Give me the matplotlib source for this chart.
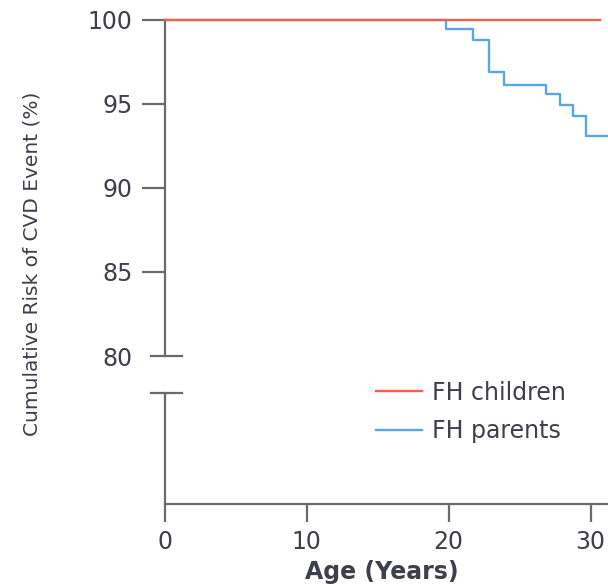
import numpy as np
import matplotlib.pyplot as plt

# data
children_age = [0, 30.65]
children_risk = [100, 100]

parents_age = [0, 19.8, 21.73, 22.86, 23.92, 26.83, 27.86, 28.77, 29.67, 32.0]
parents_risk = [100, 99.42, 98.76, 96.90, 96.13, 95.57, 94.92, 94.25, 93.08, 93.08]

x_ticks = [0, 10, 20, 30]
y_ticks = [80, 85, 90, 95, 100]

# axis break
y_bottom = 71.21
break_lo = 77.80

red = '#f0604a'
blue = '#5aa7e0'
axis_col = '#6a6a6a'
text_col = '#3e3e4c'

fig = plt.figure(figsize=(6.08, 5.86), dpi=100)
ax = fig.add_axes([164.7 / 608, 82 / 586, 443.3 / 608, 492.9 / 586])

ax.step(parents_age, parents_risk, where='post', color=blue, lw=1.7, label='FH parents', zorder=2)
ax.plot(children_age, children_risk, color=red, lw=1.7, label='FH children', clip_on=False, zorder=3)

ax.set_xlim(0, 31.22)
ax.set_ylim(y_bottom, 100.5)

for s in ['top', 'right']:
    ax.spines[s].set_visible(False)
ax.spines['left'].set_bounds(80, 100)
for s in ['left', 'bottom']:
    ax.spines[s].set_color(axis_col)
    ax.spines[s].set_linewidth(1.6)

# lower part of the broken y axis and the break marks
ax.plot([0, 0], [y_bottom, break_lo], color=axis_col, lw=1.6, clip_on=False, zorder=1)
for yb in [80, break_lo]:
    ax.plot([-0.98, 1.2], [yb, yb], color=axis_col, lw=1.6, clip_on=False, zorder=1)

ax.set_xticks(x_ticks)
ax.set_yticks(y_ticks)
ax.tick_params(axis='y', length=16.6, width=1.6, color=axis_col, pad=6.5,
               labelsize=17, labelcolor=text_col)
ax.tick_params(axis='x', length=12.6, width=1.6, color=axis_col, pad=6,
               labelsize=17, labelcolor=text_col)
ax.yaxis.get_major_ticks()[0].tick1line.set_visible(False)

ax.set_xlabel('Age (Years)', fontsize=17, fontweight='bold', color=text_col)
ax.xaxis.set_label_coords(0.49, -0.113)
ax.set_ylabel('Cumulative Risk of CVD Event (%)', fontsize=14.5, color=text_col)
ax.yaxis.set_label_coords(-0.277, 0.487)

handles, labels = ax.get_legend_handles_labels()
leg = ax.legend(handles[::-1], labels[::-1], loc='center left',
                bbox_to_anchor=(376 / 608, 1 - 412 / 586), bbox_transform=fig.transFigure,
                frameon=False, fontsize=17, handlelength=1.95, handletextpad=0.42,
                labelspacing=0.62, borderpad=0, borderaxespad=0)
for t in leg.get_texts():
    t.set_color(text_col)

fig.savefig('out.png', dpi=100)
